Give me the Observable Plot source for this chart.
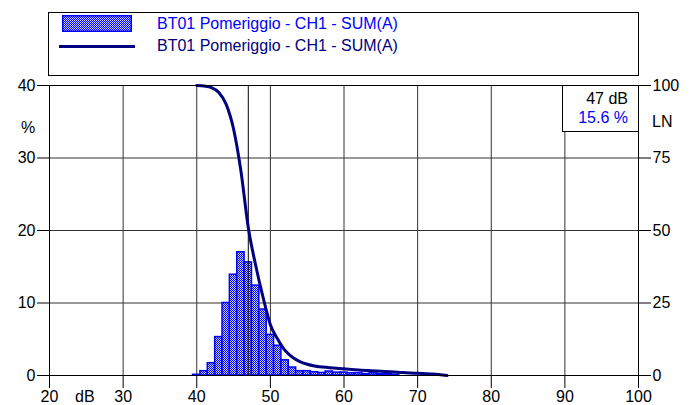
<!DOCTYPE html>
<html>
<head>
<meta charset="utf-8">
<script src="https://cdn.jsdelivr.net/npm/d3@7"></script>
<script src="https://cdn.jsdelivr.net/npm/@observablehq/plot@0.6"></script>
<style>
  html, body { margin: 0; padding: 0; background: #fff; }
  #wrap { position: relative; width: 696px; height: 405px; overflow: hidden; font-family: "Liberation Sans", Arial, sans-serif; font-size: 16px; }
  .abs { position: absolute; white-space: nowrap; line-height: 1; }
  #legend { position: absolute; left: 48px; top: 12px; width: 589px; height: 62px; border: 1px solid #000; background: #fff; }
  #chart { position: absolute; left: 0; top: 80px; }
  #info { position: absolute; left: 562px; top: 85px; width: 75px; height: 45px; border: 1px solid #000; background: #fff; }
</style>
</head>
<body>
<div id="wrap">
  <div id="chart"></div>
  <div id="legend"></div>
  <div id="info"></div>
</div>
<script>
// ---- data ----
const seriesName = "BT01 Pomeriggio - CH1 - SUM(A)";
const barDb  = [40, 41, 42, 43, 44, 45, 46, 47, 48, 49, 50, 51, 52, 53, 54, 55, 56, 57, 58, 59, 60, 61, 62, 63, 64, 65, 66, 67];
const barPct = [0.1, 0.6, 1.7, 5.3, 10.0, 13.9, 17.0, 15.6, 12.4, 9.1, 5.6, 4.1, 2.1, 1.1, 0.6, 0.6, 0.45, 0.35, 0.55, 0.4, 0.4, 0.3, 0.3, 0.2, 0.3, 0.2, 0.2, 0.1];
const lnDb   = [40, 41, 42, 43, 44, 45, 46, 47, 48, 49, 50, 51, 52, 53, 54, 55, 56, 58, 60, 62, 65, 68, 70, 72, 74];
const lnVal  = [100, 99.8, 99.3, 97.6, 93.5, 85, 70.5, 51, 38, 27, 17.5, 12.5, 8.6, 6.3, 4.8, 3.9, 3.3, 2.7, 2.3, 1.9, 1.5, 1.0, 0.8, 0.5, 0];
const xTicks = [20, 30, 40, 50, 60, 70, 80, 90, 100];
const yTicks = [0, 10, 20, 30, 40];
const lnTicks = [0, 25, 50, 75, 100];
const cursorDb = 47;
const cursorPct = 15.6;

const bars = barDb.map((d, i) => ({db: d, pct: barPct[i]}));
const ln = lnDb.map((d, i) => ({db: d, ln: lnVal[i]}));
const lnScale = 40 / 100; // right axis 0..100 maps onto left 0..40

const chart = Plot.plot({
  width: 696,
  height: 325,
  marginTop: 5,
  marginBottom: 30,
  marginLeft: 49,
  marginRight: 58,
  style: { fontFamily: "'Liberation Sans', Arial, sans-serif", fontSize: "16px", color: "#000", background: "transparent", overflow: "visible" },
  x: { domain: [20, 100] },
  y: { domain: [0, 40] },
  marks: [
    Plot.ruleX(xTicks, { stroke: "#333", strokeWidth: 1 }),
    Plot.ruleY(yTicks.slice(1, -1), { stroke: "#333", strokeWidth: 1 }),
    Plot.rectY(bars, { x1: d => d.db - 0.5, x2: d => d.db + 0.5, y: "pct", fill: "url(#hatch)", stroke: "#0000ff", strokeWidth: 1.5 }),
    Plot.ruleX([cursorDb], { stroke: "#000", strokeWidth: 1 }),
    Plot.line(ln, { x: "db", y: d => d.ln * lnScale, stroke: "#000080", strokeWidth: 3, curve: "monotone-x" }),
    Plot.frame({ stroke: "#000", strokeWidth: 1 }),
    Plot.axisX({ ticks: xTicks, tickSize: 13, tickPadding: 2, label: null, tickFormat: d => String(d) }),
    Plot.axisY({ anchor: "left", ticks: yTicks, tickSize: 12, tickPadding: 2, label: null }),
    Plot.axisY({ anchor: "right", ticks: lnTicks.map(v => v * lnScale), tickSize: 12, tickPadding: 2, label: null, tickFormat: v => String(Math.round(v / lnScale)) })
  ]
});

// pattern for bar fill
const svgNS = "http://www.w3.org/2000/svg";
function addPattern(svg, id) {
  const defs = document.createElementNS(svgNS, "defs");
  defs.innerHTML = `<pattern id="${id}" width="2" height="2" patternUnits="userSpaceOnUse">
      <rect width="2" height="2" fill="#d0d0ff"/>
      <rect x="0" y="0" width="1" height="1" fill="#0000ff"/>
      <rect x="1" y="1" width="1" height="1" fill="#0000ff"/>
    </pattern>`;
  svg.insertBefore(defs, svg.firstChild);
}
addPattern(chart, "hatch");
document.getElementById("chart").appendChild(chart);

// legend
const legend = document.getElementById("legend");
legend.innerHTML = `
  <svg class="abs" style="left:13px;top:2px" width="70" height="17">
    <defs><pattern id="hatch2" width="2" height="2" patternUnits="userSpaceOnUse">
      <rect width="2" height="2" fill="#d0d0ff"/>
      <rect x="0" y="0" width="1" height="1" fill="#0000ff"/>
      <rect x="1" y="1" width="1" height="1" fill="#0000ff"/>
    </pattern></defs>
    <rect x="0.75" y="0.75" width="68.5" height="15.5" fill="url(#hatch2)" stroke="#0000ff" stroke-width="1.5"/>
  </svg>
  <div class="abs" style="left:108px;top:3px;color:#0000ff">${seriesName}</div>
  <div class="abs" style="left:10px;top:32px;width:76px;height:3px;background:#000080"></div>
  <div class="abs" style="left:108px;top:25px;color:#000080">${seriesName}</div>
`;

// cursor info
document.getElementById("info").innerHTML = `
  <div class="abs" style="right:10px;top:5px;color:#000">${cursorDb} dB</div>
  <div class="abs" style="right:10px;top:24px;color:#0000ff">${cursorPct} %</div>
`;

// axis titles
const wrap = document.getElementById("wrap");
wrap.insertAdjacentHTML("beforeend", `
  <div class="abs" style="left:21px;top:120px">%</div>
  <div class="abs" style="left:652px;top:114px">LN</div>
  <div class="abs" style="left:75px;top:389px">dB</div>
`);
</script>
</body>
</html>
